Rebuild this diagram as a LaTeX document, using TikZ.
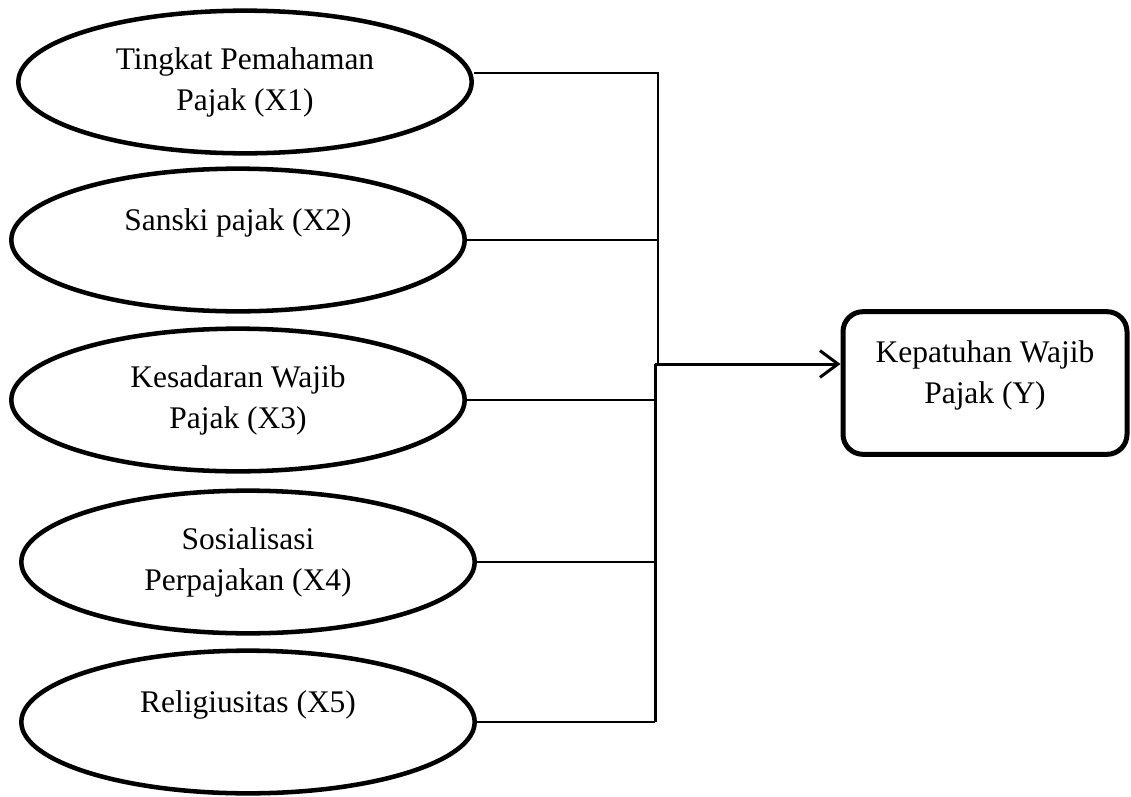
\documentclass[tikz,border=0pt]{standalone}
\usepackage{fontspec}
\setmainfont{Liberation Serif}
\usetikzlibrary{shapes.geometric,arrows.meta}
\begin{document}
\begin{tikzpicture}[x=0.75pt,y=-0.75pt,>={Straight Barb[length=13.5pt,width=20pt]},
    var/.style={ellipse,draw,line width=3.4pt,minimum width=340pt,minimum height=107pt,align=center,font=\fontsize{23.6}{30.8}\selectfont},
    dep/.style={rectangle,rounded corners=15pt,draw,line width=3.75pt,minimum width=213pt,minimum height=107pt,align=center,font=\fontsize{23.6}{30.8}\selectfont},
    link/.style={line width=1.5pt}]
    \useasboundingbox (0,0) rectangle (1131,796);
\node[var] (x1) at (245,82) {Tingkat Pemahaman\\Pajak (X1)};
\node[var] (x2) at (238,240) {Sanski pajak (X2)\\\mbox{}};
\node[var] (x3) at (238,400) {Kesadaran Wajib\\Pajak (X3)};
\node[var] (x4) at (248,562) {Sosialisasi\\Perpajakan (X4)};
\node[var] (x5) at (248,722) {Religiusitas (X5)\\\mbox{}};
\node[dep] (y) at (985,383) {Kepatuhan Wajib\\Pajak (Y)\\[-14pt]\mbox{}};
\coordinate (top) at (658,73);
\coordinate (mid) at (656,364);
\coordinate (bot) at (655,724);
\draw[link] ([yshift=6.75pt]x1.east) -- ([yshift=6.75pt]x1.east -| top) -- (top |- mid);
\draw[link] (x2.east) -- (x2.east -| top);
\draw[link] (x3.east) -- (x3.east -| bot);
\draw[link] (x4.east) -- (x4.east -| bot);
\draw[link] (x5.east) -- (x5.east -| bot);
\draw[line width=2.25pt] (x5.east -| bot) -- (bot |- mid);
\draw[->,line width=2.25pt] (bot |- mid) -- (y.west |- mid);

\end{tikzpicture}
\end{document}
